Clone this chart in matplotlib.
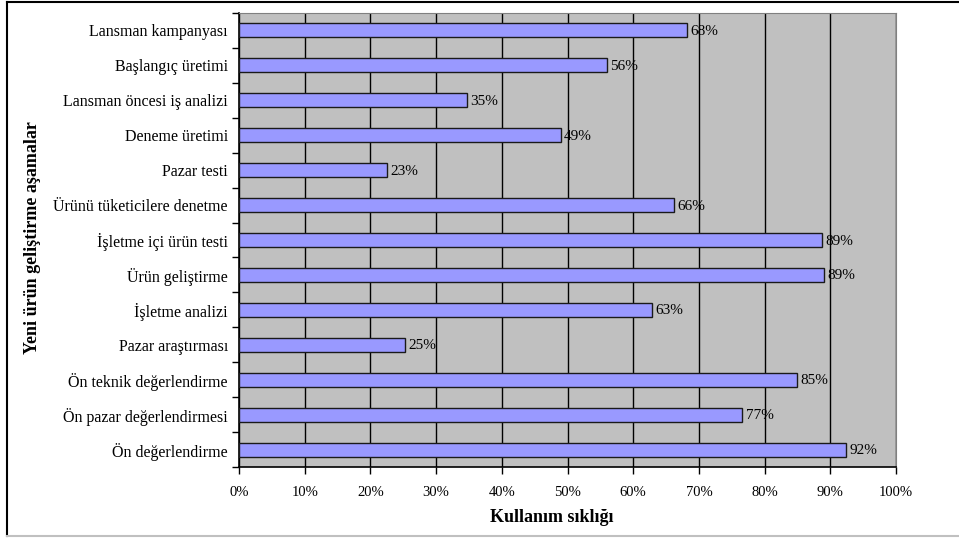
import matplotlib.pyplot as plt
from matplotlib.lines import Line2D
from matplotlib.ticker import MultipleLocator, PercentFormatter

# stages, bottom to top
stages = [
    'Ön değerlendirme',
    'Ön pazar değerlendirmesi',
    'Ön teknik değerlendirme',
    'Pazar araştırması',
    'İşletme analizi',
    'Ürün geliştirme',
    'İşletme içi ürün testi',
    'Ürünü tüketicilere denetme',
    'Pazar testi',
    'Deneme üretimi',
    'Lansman öncesi iş analizi',
    'Başlangıç üretimi',
    'Lansman kampanyası',
]
usage = [92.4, 76.6, 85.0, 25.3, 62.9, 89.0, 88.8, 66.2, 22.5, 49.0, 34.7, 56.0, 68.2]
value_labels = ['92%', '77%', '85%', '25%', '63%', '89%', '89%', '66%', '23%', '49%', '35%', '56%', '68%']

plt.rcParams['font.family'] = ['Liberation Serif', 'DejaVu Serif']

figure = plt.figure(figsize=(9.59, 5.38), dpi=100)
W, H = 959, 538
axe = figure.add_axes([239 / W, 1 - 467 / H, (896 - 239) / W, (467 - 13) / H])

axe.set_facecolor('#c0c0c0')
positions = range(len(stages))
axe.barh(positions, usage, height=0.4, color='#9999ff', edgecolor='#1a1a1a',
         linewidth=1.0, zorder=3)
for pos, val, lab in zip(positions, usage, value_labels):
    axe.text(val + 0.5, pos - 0.03, lab, va='center', ha='left', fontsize=11, zorder=4)

axe.set_xlim(0, 100)
axe.set_ylim(-0.5, len(stages) - 0.5)
axe.xaxis.set_major_locator(MultipleLocator(10))
axe.xaxis.set_major_formatter(PercentFormatter(decimals=0))
axe.grid(axis='x', color='black', linewidth=1.0, zorder=1)

axe.set_yticks([p - 0.5 for p in range(len(stages) + 1)])
axe.set_yticklabels([])
axe.set_yticks(list(positions), minor=True)
axe.set_yticklabels(stages, minor=True, fontsize=11.5)
axe.tick_params(axis='y', which='minor', length=0, pad=8)
axe.tick_params(axis='y', which='major', length=5, direction='out', width=1)
axe.tick_params(axis='x', length=5, direction='out', width=1, labelsize=10.5, pad=9)

for side in ['top', 'right']:
    axe.spines[side].set_color('#808080')
for side in ['left', 'bottom']:
    axe.spines[side].set_color('black')
    axe.spines[side].set_linewidth(1.2)

figure.text(552 / W, 1 - 518 / H, 'Kullanım sıklığı', ha='center', va='center',
            fontsize=13, fontweight='bold')
figure.text(33 / W, 1 - 238 / H, 'Yeni ürün geliştirme aşamalar', ha='center', va='center',
            rotation=90, fontsize=13, fontweight='bold')

# outer chart frame
figure.add_artist(Line2D([6.5 / W, 6.5 / W], [1 - 1.5 / H, 1 - 536 / H], color='black', lw=1.5))
figure.add_artist(Line2D([6.5 / W, 1], [1 - 1.5 / H, 1 - 1.5 / H], color='black', lw=1.5))
figure.add_artist(Line2D([6.5 / W, 1], [1 - 536 / H, 1 - 536 / H], color='#c0c0c0', lw=1.5))

figure.savefig('out.png', dpi=100)
